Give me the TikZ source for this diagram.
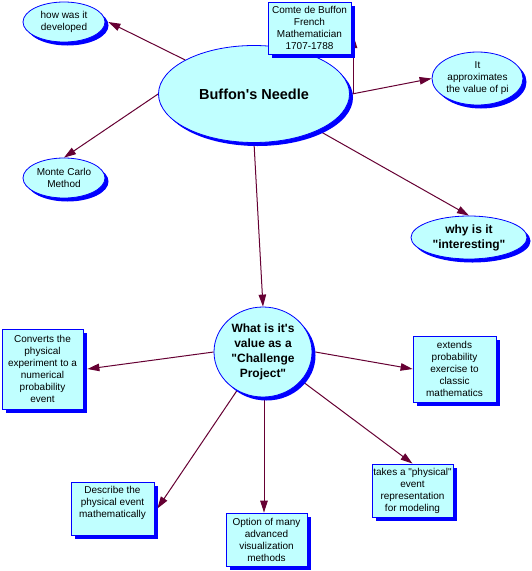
\documentclass[tikz,border=0pt]{standalone}
\usepackage{fontspec}
\setmainfont{Liberation Sans}[Ligatures=TeXOff]
\usetikzlibrary{arrows.meta,shapes.geometric,shadows}
\definecolor{fillc}{HTML}{C0FFFF}
\definecolor{arrowc}{HTML}{660033}
\pgfdeclarelayer{bg}
\pgfsetlayers{bg,main}
\tikzset{
  shad/.style={drop shadow={shadow xshift=3.5pt,shadow yshift=-3.5pt,fill=blue,opacity=1}},
  ell/.style={ellipse,draw=blue,line width=0.8pt,fill=fillc,inner sep=0pt,shad},
  box/.style={rectangle,draw=blue,line width=0.8pt,fill=fillc,inner sep=1pt,shad,
    align=center,font=\fontsize{10}{12}\selectfont},
  small/.style={align=center,inner sep=0pt,font=\fontsize{10}{12}\selectfont},
  bold/.style={align=center,inner sep=0pt,font=\fontsize{12}{15}\selectfont\bfseries},
  big/.style={align=center,inner sep=0pt,font=\fontsize{14.5}{17}\selectfont\bfseries},
  arr/.style={draw=arrowc,line width=1pt,-{Triangle[length=12pt,width=7.5pt,fill=arrowc]}}
}
\begin{document}
\begin{tikzpicture}[x=1pt,y=-1pt]
\begin{pgfonlayer}{bg}
\fill[white] (0,0) rectangle (532,571);
\end{pgfonlayer}
\useasboundingbox (0,0) rectangle (532,571);

% ellipses
\node[ell,minimum width=82pt,minimum height=40pt] (how) at (64,22) {};
\node[small] (howt) at (how) {how was it\\developed};
\node[ell,minimum width=82pt,minimum height=40pt] (monte) at (64,178) {};
\node[small] (montet) at (monte) {Monte Carlo\\Method};
\node[ell,minimum width=191pt,minimum height=97pt] (buffon) at (254,94) {};
\node[big] (buffont) at (buffon) {Buffon's Needle};
\node[ell,minimum width=91pt,minimum height=53pt] (approx) at (477.5,78.5) {};
\node[small] (approxt) at (approx) {It\\approximates\\the value of pi};
\node[ell,minimum width=116pt,minimum height=43pt] (why) at (469,237.5) {};
\node[bold] (whyt) at (why) {why is it\\"interesting"};
\node[ell,minimum width=98pt,minimum height=90pt] (what) at (263,352) {};
\node[bold] (whatt) at (what) {What is it's\\value as a\\"Challenge\\Project"};

% boxes
\node[box,minimum width=83pt,minimum height=52pt] (comte) at (309.5,28) {Comte de Buffon\\French\\Mathematician\\1707-1788};
\node[box,minimum width=81pt,minimum height=80pt] (converts) at (42.5,369) {Converts the\\physical\\experiment to a\\numerical\\probability\\event};
\node[box,minimum width=83pt,minimum height=66pt] (extends) at (454.5,369) {extends\\probability\\exercise to\\classic\\mathematics};
\node[box,minimum width=83pt,minimum height=53pt,text depth=13pt] (describe) at (112.5,508.5) {Describe the\\physical event\\mathematically};
\node[box,minimum width=81pt,minimum height=53pt] (option) at (266.5,539.5) {Option of many\\advanced\\visualization\\methods};
\node[box,minimum width=81pt,minimum height=53pt] (takes) at (412.5,490.5) {takes a "physical"\\event\\representation\\for modeling};

\coordinate (cin) at (353.5,36);

\begin{pgfonlayer}{bg}
\draw[arr] (buffon) -- ([xshift=3pt]how.east);
\draw[arr] (buffon.west) -- (monte.north);
\draw[arr] (buffon.east -| cin) -- (cin);
\draw[arr] ([xshift=2pt]buffon.east) -- (approx.west);
\draw[arr] (buffon) -- (why.north);
\draw[arr] (buffon.south) -- (what.north);
\draw[arr] (what.west) -- ([xshift=4pt]converts.east);
\draw[arr] ([xshift=3pt]what.east) -- (extends.west);
\draw[arr] (what) -- ([xshift=3pt]describe.east);
\draw[arr] ([xshift=1pt]what.south) -- ([xshift=1pt]what.south |- option.north);
\draw[arr] (what) -- (takes.north);
\end{pgfonlayer}
\end{tikzpicture}
\end{document}
